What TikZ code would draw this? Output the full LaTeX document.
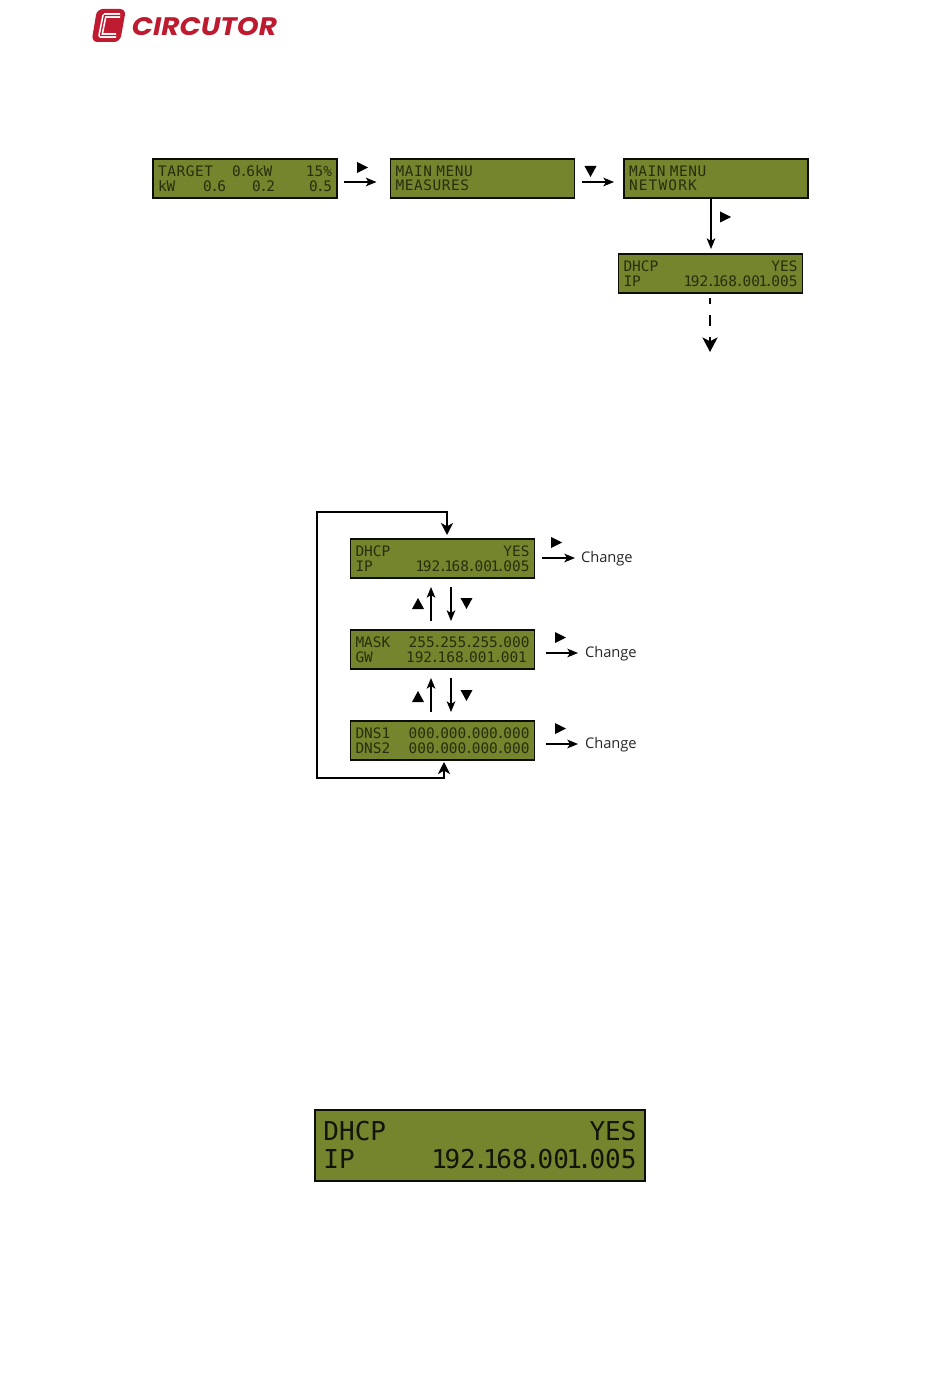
\documentclass[tikz,border=0pt]{standalone}
\usepackage{fontspec}
\setmainfont{Open Sans}
\newfontfamily\lcdfont{DejaVu Sans Mono}
\newfontfamily\logofont{Poppins}
\usetikzlibrary{arrows.meta}
\definecolor{lcdfill}{HTML}{74852E}
\definecolor{lcdink}{HTML}{262E0C}
\definecolor{logored}{HTML}{BE1A30}
\newcommand{\gp}[1]{\hspace*{\dimexpr #1em*602/1000\relax}}
\newcommand{\pd}{\makebox[.38em]{.}}
\newcommand{\on}{\kern-.094em 1\kern-.094em\relax}
\newcommand{\rw}[2]{\leavevmode\hbox to\hsize{#1\hfil #2}}
\newcommand{\ltr}[2]{{\addfontfeature{LetterSpace=#1}#2}}
\newcommand{\dhcpline}{\rw{DHCP}{YES}\\\rw{IP}{\on 92\pd\on 68\pd 00\on\pd 005}}
\tikzset{
  lcd/.style={draw=black!90!lcdfill,fill=lcdfill,text=lcdink,line width=0.9pt,outer sep=0pt,inner sep=0pt,
    minimum width=138pt,minimum height=29.25pt,text width=130.5pt,align=left,
    font=\lcdfont\fontsize{10.83}{10.9}\selectfont},
  lcdbig/.style={lcd,line width=2.2pt,minimum width=247.5pt,minimum height=53.25pt,text width=234.8pt,text=black!85!lcdfill,
    font=\lcdfont\fontsize{19.5}{21}\selectfont},
  arr/.style={line width=1pt,-{Stealth[length=8pt,width=6.5pt,inset=2pt]}},
  looparr/.style={line width=1.9pt,{Stealth[length=9pt,width=9pt,inset=2.5pt]}-{Stealth[length=9pt,width=9pt,inset=2.5pt]}},
  dasharr/.style={line width=1pt,dash pattern=on 4.5pt off 8.25pt on 8.25pt off 8.25pt,-{Stealth[length=11pt,width=11.5pt,inset=3pt]}},
  changelbl/.style={font=\fontsize{11}{13}\selectfont,text=black!85,inner sep=0pt,outer sep=0pt},
  triright/.pic={\fill[black] (-5.5,-5.5)--(5.5,0)--(-5.5,5.5)--cycle;},
  tridown/.pic={\fill[black] (-6,-5.5)--(6,-5.5)--(0,5.5)--cycle;},
  triup/.pic={\fill[black] (-6,5.5)--(6,5.5)--(0,-5.5)--cycle;},
}
\begin{document}
\begin{tikzpicture}[x=0.75pt,y=-0.75pt]
\useasboundingbox (0,0) rectangle (950,1387);
\fill[white] (0,0) rectangle (950,1387);
% logo
\fill[logored,rounded corners=4.5pt] (97,9)--(126,9)--(120,42)--(91.5,42)--cycle;
\draw[white,line width=3.4pt,line join=round] (120,15.5)--(104.5,15.5)--(100.5,35.5)--(116,35.5);
\draw[logored,line width=1pt,line join=round] (120,15.5)--(104.5,15.5)--(100.5,35.5)--(116,35.5);
\node[inner sep=0pt,text=logored,xscale=1.1,yscale=1] (logo) at (204.5,26.5)
  {\logofont\itshape\bfseries\fontsize{19}{20}\selectfont CIRCUTOR};
% top row
\node[lcd] (a) at (245,178.5) {\rw{\ltr{4}{TARGET}\gp{2.2}0\pd 6kW}{15\%}\\\rw{kW\gp{3.2}0\pd 6\gp{3}0\pd 2}{0\pd 5}};
\node[lcd] (b) at (482.5,178.5) {\ltr{4}{MAIN}\gp{0.5}\ltr{4}{MENU}\\\ltr{4}{MEASURES}};
\node[lcd] (c) at (716,178.5) {\ltr{4}{MAIN}\gp{0.5}\ltr{4}{MENU}\\\ltr{8}{NETWORK}};
\node[lcd] (d) at (710.5,273.5) {\dhcpline};
\coordinate (dend) at (710,352);
\draw[arr] ([shift={(7,3.5)}]a.east) -- ([shift={(-14,3.5)}]b.west);
\draw[arr] ([shift={(7,3.5)}]b.east) -- ([shift={(-10,3.5)}]c.west);
\draw[arr] ([xshift=-3.75pt]c.south) -- ([shift={(0.5,-5)}]d.north);
\draw[dasharr] ([shift={(-0.5,5)}]d.south) -- (dend);
\pic at (362.5,167.5) {triright};
\pic at (590.5,171.5) {tridown};
\pic at (725.5,217) {triright};
% middle stack
\node[lcd] (e) at (442.5,558.5) {\dhcpline};
\node[lcd] (f) at (442.5,649.5) {\rw{MASK}{255\pd 255\pd 255\pd 000}\\\rw{GW}{192\pd 168\pd 001\pd 001\gp{0.3}}};
\node[lcd] (g) at (442.5,740.5) {\rw{DNS1}{000\pd 000\pd 000\pd 000}\\\rw{DNS2}{000\pd 000\pd 000\pd 000}};
\node[changelbl,anchor=west] (ce) at (581,559) {Change};
\node[changelbl,anchor=west] (cf) at (585,654) {Change};
\node[changelbl,anchor=west] (cg) at (585,745) {Change};
\draw[arr] ([shift={(7,-0.5)}]e.east) -- ([shift={(-6,-1)}]ce.west);
\draw[arr] ([shift={(11,3.5)}]f.east) -- ([shift={(-7,-1)}]cf.west);
\draw[arr] ([shift={(11,3.5)}]g.east) -- ([shift={(-7,-1)}]cg.west);
\draw[arr] ([shift={(-11.5,43)}]e.south) -- ([shift={(-11.5,9)}]e.south);
\draw[arr] ([shift={(8.5,9)}]e.south) -- ([shift={(8.5,43)}]e.south);
\draw[arr] ([shift={(-11.5,43)}]f.south) -- ([shift={(-11.5,9)}]f.south);
\draw[arr] ([shift={(8.5,9)}]f.south) -- ([shift={(8.5,43)}]f.south);
\draw[looparr] ([shift={(1.5,2)}]g.south) -- ([shift={(1.5,18)}]g.south) -| (317,512) -| ([shift={(4.5,-4)}]e.north);
\pic at (418,603.5) {triup};
\pic at (466.5,603.5) {tridown};
\pic at (418,696.5) {triup};
\pic at (466.5,695.5) {tridown};
\pic at (556.5,542.5) {triright};
\pic at (560.5,637.5) {triright};
\pic at (560.5,728.5) {triright};
% big display
\node[lcdbig] (h) at (480,1145.5) {\dhcpline};
\end{tikzpicture}
\end{document}
